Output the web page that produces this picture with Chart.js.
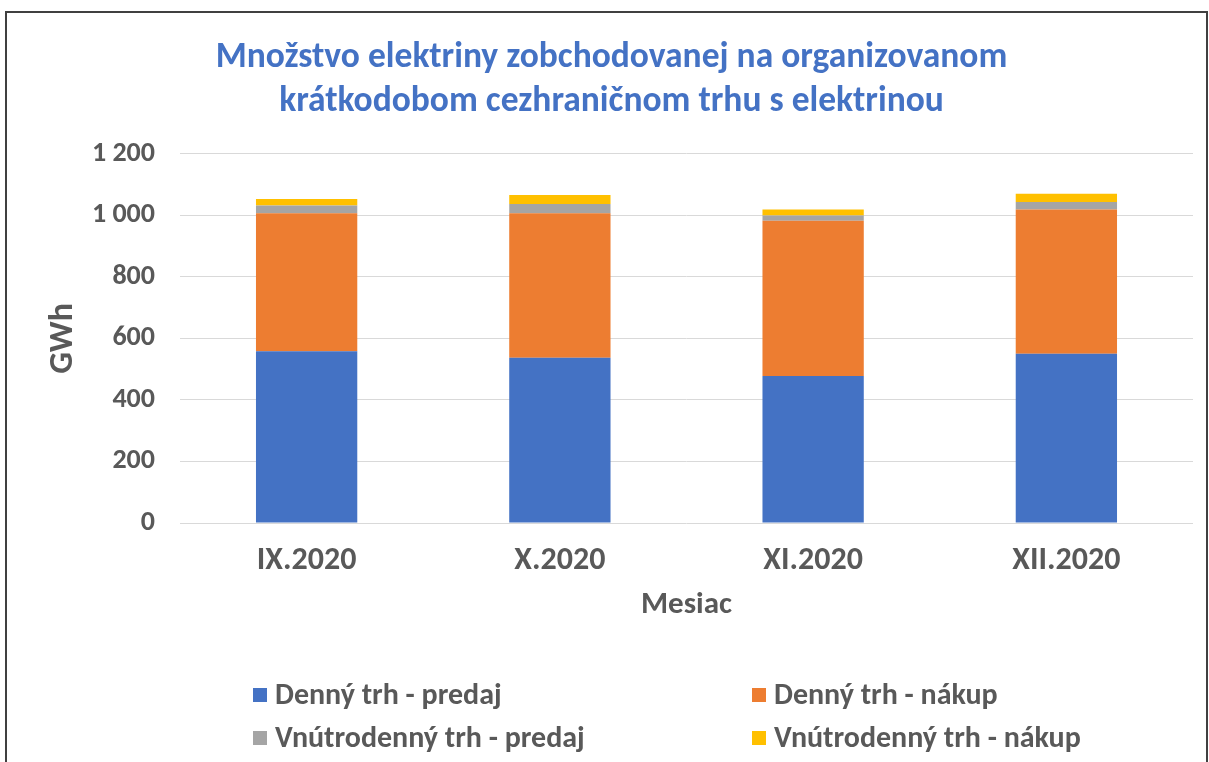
<!DOCTYPE html>
<html>
<head>
<meta charset="utf-8">
<script src="https://cdn.jsdelivr.net/npm/chart.js@4"></script>
<style>
  html, body { margin: 0; padding: 0; background: #fff; }
  #wrap { position: relative; width: 1209px; height: 762px; overflow: hidden; }
  #frame { position: absolute; left: 5px; top: 11px; width: 1203px; height: 780px; border: 2px solid #404040; box-sizing: border-box; }
  canvas { position: absolute; left: 0; top: 0; }
</style>
</head>
<body>
<div id="wrap">
  <div id="frame"></div>
  <canvas id="myChart" width="1209" height="762"></canvas>
</div>
<script>
// údaje (GWh)
const months = ["IX.2020", "X.2020", "XI.2020", "XII.2020"];
const dennyPredaj = [558, 537, 478, 550];
const dennyNakup = [449, 470, 504, 469];
const vnutroPredaj = [25, 30, 17, 24];
const vnutroNakup = [21, 29, 20, 27];
const seriesNames = ["Denný trh - predaj", "Denný trh - nákup", "Vnútrodenný trh - predaj", "Vnútrodenný trh - nákup"];
const seriesColors = ["#4472C4", "#ED7D31", "#A5A5A5", "#FFC000"];

const FONT = "Carlito, 'Liberation Sans Narrow', 'Open Sans', sans-serif";
const gray = "#595959";

const allValues = [dennyPredaj, dennyNakup, vnutroPredaj, vnutroNakup];
const chartData = { labels: months, datasets: [] };
for (let i = 0; i < allValues.length; i++) {
  chartData.datasets.push({
    label: seriesNames[i],
    data: allValues[i],
    backgroundColor: seriesColors[i],
    barPercentage: 0.4,
    categoryPercentage: 1.0,
  });
}

// legenda v dvoch stĺpcoch ako v Exceli
const legendPlugin = {
  id: "gridLegend",
  afterDraw(chart) {
    const ctx = chart.ctx;
    const cols = [253, 752];
    const rows = [695, 738];
    ctx.save();
    ctx.font = "bold 30px " + FONT;
    ctx.textBaseline = "middle";
    chart.data.datasets.forEach((ds, i) => {
      const x = cols[i % 2];
      const y = rows[Math.floor(i / 2)];
      ctx.fillStyle = ds.backgroundColor;
      ctx.fillRect(x, y - 7, 14, 14);
      ctx.fillStyle = gray;
      ctx.fillText(ds.label, x + 22, y + 1);
    });
    ctx.restore();
  },
};

const ctx = document.getElementById("myChart").getContext("2d");
new Chart(ctx, {
  type: "bar",
  data: chartData,
  plugins: [legendPlugin],
  options: {
    responsive: false,
    animation: false,
    layout: { padding: { left: 30, right: 16, top: 0, bottom: 138 } },
    plugins: {
      legend: { display: false },
      tooltip: { enabled: false },
      title: {
        display: true,
        text: ["Množstvo elektriny zobchodovanej na organizovanom", "krátkodobom cezhraničnom trhu s elektrinou"],
        color: "#4472C4",
        font: { family: FONT, size: 35.5, weight: "bold", lineHeight: 1.25 },
        padding: { top: 36, bottom: 29 },
      },
    },
    scales: {
      x: {
        stacked: true,
        afterFit(scale) { scale.height = 101; },
        grid: { display: false, drawTicks: false },
        border: { display: false },
        ticks: { color: gray, padding: 19, font: { family: FONT, size: 32, weight: "bold" } },
        title: {
          display: true,
          text: "Mesiac",
          color: gray,
          padding: { top: 0, bottom: 0 },
          font: { family: FONT, size: 31, weight: "bold" },
        },
      },
      y: {
        stacked: true,
        min: 0,
        max: 1200,
        afterFit(scale) { scale.width = 150; },
        grid: { color: "#D9D9D9", lineWidth: 1, drawTicks: false },
        border: { display: false },
        ticks: {
          stepSize: 200,
          color: gray,
          padding: 25,
          font: { family: FONT, size: 28, weight: "bold" },
          callback: (v) => String(v).replace(/\B(?=(\d{3})+(?!\d))/g, " "),
        },
        title: {
          display: true,
          text: "GWh",
          color: gray,
          padding: { top: 13, bottom: 0 },
          font: { family: FONT, size: 34, weight: "bold" },
        },
      },
    },
  },
});
</script>
</body>
</html>
